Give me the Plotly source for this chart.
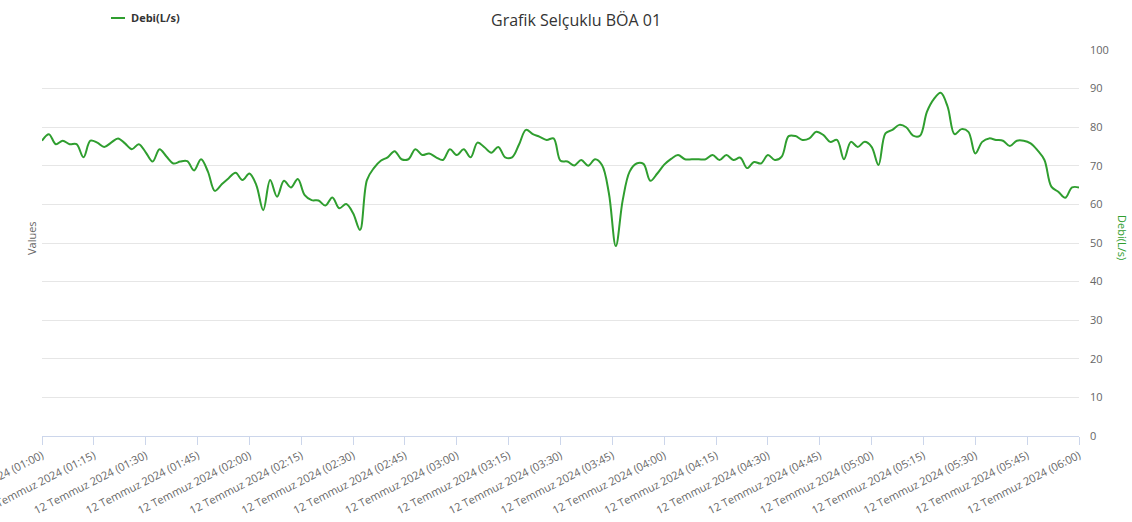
import pandas as pd
import plotly.graph_objects as go

# ---- data ----
start_time = "2024-07-12 01:00"
end_time = "2024-07-12 06:00"
step = "2min"

debi_values = [
    76.5, 78.2, 75.6, 76.5, 75.6, 75.6, 72.2, 76.5, 76.0, 74.9,
    76.0, 77.1, 75.8, 74.3, 75.6, 73.5, 71.1, 74.3, 72.4, 70.6,
    71.1, 71.2, 68.8, 71.7, 68.5, 63.5, 65.2, 66.8, 68.2, 66.3,
    68.0, 65.0, 58.5, 66.3, 62.0, 66.1, 64.4, 66.6, 62.4, 61.1,
    61.0, 59.7, 61.8, 59.0, 60.1, 57.7, 53.4, 66.3, 69.4, 71.3,
    72.2, 73.8, 71.7, 71.7, 74.3, 72.8, 73.2, 72.2, 71.5, 74.3,
    72.8, 74.3, 72.2, 76.0, 74.8, 73.4, 74.9, 72.2, 72.2, 75.5,
    79.3, 78.2, 77.5, 76.7, 77.1, 71.3, 71.1, 70.1, 71.5, 70.0,
    71.7, 70.2, 62.9, 49.2, 61.1, 68.5, 70.6, 70.5, 66.1, 68.0,
    70.3, 71.8, 72.8, 71.7, 71.7, 71.7, 71.7, 72.8, 71.5, 72.8,
    71.5, 72.1, 69.4, 71.0, 70.6, 72.8, 71.5, 72.4, 77.7, 77.7,
    76.7, 77.1, 78.8, 78.0, 76.2, 76.7, 71.7, 76.2, 74.9, 76.2,
    74.9, 70.2, 78.4, 79.3, 80.6, 80.0, 77.8, 77.8, 84.0, 87.3,
    88.9, 85.3, 78.2, 79.5, 78.8, 73.2, 76.2, 77.1, 76.7, 76.5,
    75.1, 76.5, 76.5, 75.8, 74.0, 71.5, 64.6, 63.3, 61.7, 64.4,
    64.4,
]

tick_times = ["01:00", "01:15", "01:30", "01:45", "02:00", "02:15", "02:30",
              "02:45", "03:00", "03:15", "03:30", "03:45", "04:00", "04:15",
              "04:30", "04:45", "05:00", "05:15", "05:30", "05:45", "06:00"]
tick_prefix = "12 Temmuz 2024"
y_ticks = [0, 10, 20, 30, 40, 50, 60, 70, 80, 90, 100]

title_text = "Grafik Selçuklu BÖA 01"
series_name = "Debi(L/s)"
left_axis_title = "Values"

# ---- figure ----
times = pd.date_range(start_time, end_time, freq=step)
n = min(len(times), len(debi_values))
times = times[:n]
vals = debi_values[:n]

GREEN = "#2f9e2f"
W, H = 1132, 522
ML, MR, MT, MB = 42, 53, 50, 86
pw = W - ML - MR
ph = H - MT - MB

def px_x(px):
    return (px - ML) / pw

def px_y(py):
    return (H - MB - py) / ph

fig = go.Figure()
fig.add_trace(go.Scatter(
    x=times, y=vals, mode="lines", name=series_name,
    line=dict(color=GREEN, width=2, shape="spline", smoothing=1.0),
    showlegend=False, hoverinfo="x+y",
))

tickvals = [pd.Timestamp("2024-07-12 " + t) for t in tick_times]
ticktext = [f"{tick_prefix} ({t})" for t in tick_times]

FONT = "Open Sans, DejaVu Sans, sans-serif"

fig.update_layout(
    width=W, height=H,
    margin=dict(l=ML, r=MR, t=MT, b=MB, autoexpand=False),
    paper_bgcolor="white", plot_bgcolor="white",
    font=dict(family=FONT, color="#666666", size=11),
    xaxis=dict(
        range=[times[0], times[-1]],
        tickvals=tickvals, ticktext=ticktext,
        tickangle=-27, tickfont=dict(size=11, color="#666666"),
        ticklabeloverflow="allow",
        showgrid=False, zeroline=False,
        showline=True, linecolor="#ccd6eb", linewidth=1,
        ticks="outside", ticklen=8, tickcolor="#ccd6eb",
        fixedrange=True,
    ),
    yaxis=dict(
        side="right", range=[0, 100], tickvals=y_ticks,
        tickfont=dict(size=11, color="#666666"),
        showgrid=True, gridcolor="#e6e6e6", gridwidth=1,
        zeroline=False, showline=False,
        ticks="", ticklabelstandoff=10,
    ),
)

annotations = [
    dict(text=title_text, xref="paper", yref="paper",
         x=px_x(576), y=px_y(20), xanchor="center", yanchor="middle",
         showarrow=False, font=dict(size=16, color="#333333", family=FONT)),
    dict(text=f"<b>{series_name}</b>", xref="paper", yref="paper",
         x=px_x(129), y=px_y(18), xanchor="left", yanchor="middle",
         showarrow=False, font=dict(size=11, color="#333333", family=FONT)),
    dict(text=left_axis_title, xref="paper", yref="paper",
         x=px_x(32), y=px_y(238), xanchor="center", yanchor="middle",
         textangle=-90, showarrow=False,
         font=dict(size=11, color="#666666", family=FONT)),
    dict(text=series_name, xref="paper", yref="paper",
         x=px_x(1122), y=px_y(237), xanchor="center", yanchor="middle",
         textangle=90, showarrow=False,
         font=dict(size=11, color=GREEN, family=FONT)),
]
fig.update_layout(annotations=annotations)

fig.add_shape(type="line", xref="paper", yref="paper",
              x0=px_x(111), x1=px_x(125), y0=px_y(18), y1=px_y(18),
              line=dict(color=GREEN, width=2))

fig.write_html(
    "out.html",
    config={"displayModeBar": False},
    post_script="document.body.style.margin='0px';document.body.style.overflow='hidden';",
)
